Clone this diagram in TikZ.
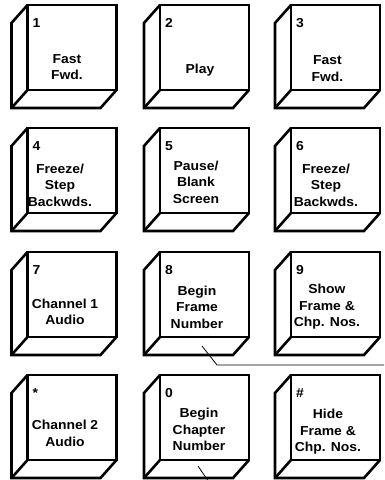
\documentclass[tikz,border=0pt]{standalone}
\usepackage{fontspec}
\newfontfamily\keyfont[FakeStretch=1.07]{Liberation Sans}
\usetikzlibrary{calc}
\tikzset{
  face/.style={draw, line width=2.6pt, minimum width=89pt, minimum height=85pt, outer sep=0pt, inner sep=0pt, line join=miter},
  edge/.style={line width=2.6pt, line join=miter},
  num/.style={anchor=north west, inner sep=0pt, font=\keyfont\bfseries\fontsize{13}{15}\selectfont},
  lbl/.style={align=center, inner sep=0pt, font=\keyfont\bfseries\fontsize{13}{16.5}\selectfont},
  lead/.style={line width=0.8pt}
}
\newcommand\keycap[4]{%
  \node[face] (#1) at (#2,-#3) {};
  \draw[edge] (#1.north west) -- ++(-16,-18) -- ($(#1.south west)+(-16,-18)$) -- ($(#1.south east)+(-16,-18)$) -- (#1.south east);
  \draw[edge] (#1.south west) -- ++(-16,-18);
  \node[num] (#1n) at ($(#1.north west)+(5,-13)$) {#4};
}
\newcommand\keylabel[4]{%
  \node[lbl] (#1t) at ($(#1.center)+(#2,-#3)$) {#4};
}
\begin{document}
\begin{tikzpicture}[x=1pt,y=1pt]
\useasboundingbox (0,0) rectangle (384,-480);
\keycap{k1}{72}{47.5}{1}
\keylabel{k1}{-5}{19.5}{Fast\\Fwd.}
\keycap{k2}{204.5}{47.5}{2}
\keylabel{k2}{-4.5}{22.5}{Play}
\keycap{k3}{335.5}{47.5}{3}
\keylabel{k3}{-8}{21}{Fast\\Fwd.}
\keycap{k4}{72}{170.5}{4}
\keylabel{k4}{-12}{14.5}{Freeze/\\Step\\Backwds.}
\keycap{k5}{204.5}{170.5}{5}
\keylabel{k5}{-8.5}{11.5}{Pause/\\Blank\\Screen}
\keycap{k6}{335.5}{170.5}{6}
\keylabel{k6}{-9.5}{14.5}{Freeze/\\Step\\Backwds.}
\keycap{k7}{72}{294.5}{7}
\keylabel{k7}{-7}{17.5}{Channel 1\\Audio}
\keycap{k8}{204.5}{294.5}{8}
\keylabel{k8}{-7.5}{12.5}{Begin\\Frame\\Number}
\keycap{k9}{335.5}{294.5}{9}
\keylabel{k9}{-8.5}{12.5}{Show\\Frame \&\\Chp. Nos.}
\keycap{kstar}{72}{417.5}{*}
\keylabel{kstar}{-7}{16}{Channel 2\\Audio}
\keycap{k0}{204.5}{417.5}{0}
\keylabel{k0}{-5.5}{12}{Begin\\Chapter\\Number}
\keycap{khash}{335.5}{417.5}{\#}
\keylabel{khash}{-7.5}{14.5}{Hide\\Frame \&\\Chp. Nos.}
\coordinate (a1) at ($(k8.south)+(-2.5,-9)$);
\coordinate (a2) at (217,-365);
\coordinate (a3) at (384,-365);
\draw[lead] (a1) -- (a2) -- (a3);
\coordinate (b1) at ($(k0.south)+(-6.5,-6)$);
\coordinate (b2) at (207.5,-480);
\draw[lead] (b1) -- (b2);
\end{tikzpicture}
\end{document}
